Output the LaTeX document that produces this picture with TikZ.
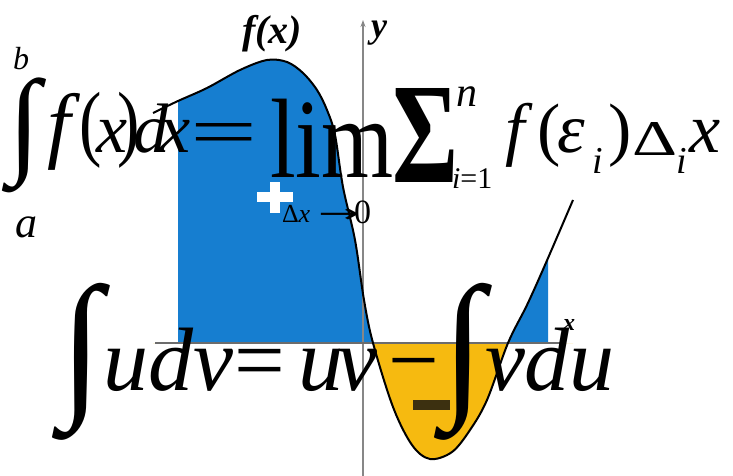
\documentclass[tikz,border=0pt]{standalone}
\usepackage{fontspec}
\setmainfont{Liberation Serif}
\newfontfamily\symfont{DejaVu Sans}
\usepackage{graphicx}
\usetikzlibrary{arrows.meta}
\definecolor{areablue}{RGB}{22,126,208}
\definecolor{areaorange}{RGB}{246,186,16}
\definecolor{axisgray}{RGB}{135,135,135}
\definecolor{minusdark}{RGB}{60,48,16}
\newcommand{\fsz}[1]{\fontsize{#1}{#1}\selectfont}
\begin{document}
\begin{tikzpicture}[x=1pt,y=-1pt,
  txt/.style={inner sep=0pt, outer sep=0pt, anchor=base west},
  bigglyph/.style={inner sep=0pt, outer sep=0pt, anchor=south west},
  curveline/.style={line width=2pt, black, line join=round}]
\useasboundingbox[fill=white] (0,0) rectangle (733,476);

% ---- areas ----
\begin{scope}
  \clip (178,0) rectangle (548,343);
  \fill[areablue] plot[smooth, tension=0.55] coordinates {(153,113) (178,101) (207,88) (240,70) (267,60) (287,62) (303,73) (317,90) (327,110) (335,135) (343,187) (355,240) (364,300) (373,343) (393,407) (412,445) (430,459) (452,452) (470,430) (487,400) (508,343) (527,305) (545,265) (573,200)} -- (573,343) -- (153,343) -- cycle;
\end{scope}
\begin{scope}
  \clip (153,343) rectangle (733,476);
  \fill[areaorange] plot[smooth, tension=0.55] coordinates {(153,113) (178,101) (207,88) (240,70) (267,60) (287,62) (303,73) (317,90) (327,110) (335,135) (343,187) (355,240) (364,300) (373,343) (393,407) (412,445) (430,459) (452,452) (470,430) (487,400) (508,343) (527,305) (545,265) (573,200)} -- (573,343) -- (153,343) -- cycle;
\end{scope}

% ---- axes ----
\coordinate (ybot) at (363,476);
\coordinate (ytop) at (363,20);
\coordinate (xleft) at (155,343);
\coordinate (xright) at (560,343);
\draw[axisgray, line width=1.6pt, -{Stealth[length=7pt,width=5pt]}] (ybot) -- (ytop);
\draw[axisgray!80!black, line width=1.8pt] (xleft) -- (xright);

% ---- curve ----
\draw[curveline] plot[smooth, tension=0.55] coordinates {(153,113) (178,101) (207,88) (240,70) (267,60) (287,62) (303,73) (317,90) (327,110) (335,135) (343,187) (355,240) (364,300) (373,343) (393,407) (412,445) (430,459) (452,452) (470,430) (487,400) (508,343) (527,305) (545,265) (573,200)};

% ---- plus / minus signs of the areas ----
\draw[white, line width=10pt] (257,197) -- (293,197);
\draw[white, line width=10pt] (275,182) -- (275,213);
\fill[minusdark] (413,400) rectangle (450,410);

% ---- axis labels ----
\node[txt, font=\fsz{40}\bfseries\itshape] (fxlabel) at (242,44) {f(x)};
\node[txt, font=\fsz{36}\bfseries\itshape] (ylabel) at (371,38) {y};
\node[txt, font=\fsz{24}\bfseries\itshape] (xlabel) at (563,330) {x};

% ---- upper formula ----
\node[bigglyph] (int1) at (8,193) {\resizebox*{32pt}{115pt}{∫}};
\node[txt, font=\fsz{32}\itshape] (ub) at (13,70) {b};
\node[txt, font=\fsz{44}\itshape] (lb) at (15,237) {a};
\node[txt, font=\fsz{84}\itshape] (f1) at (47,153) {f};
\node[txt, font=\fsz{84}] (lp1) at (79,150) {\scalebox{0.8}[1]{(}};
\node[txt, font=\fsz{70}\itshape] (x1) at (96,153) {x};
\node[txt, font=\fsz{84}] (rp1) at (117,150) {\scalebox{0.8}[1]{)}};
\node[txt, font=\fsz{70}\itshape] (d1) at (133,153) {d};
\node[txt, font=\fsz{70}\itshape] (x2) at (159,153) {x};
\node[txt, font=\fsz{70}] (eq1) at (190,155) {\scalebox{1.7}[1]{=}};
\node[txt, font=\fsz{113}] (lim) at (270,177) {\scalebox{0.82}[1]{lim}};
\node[txt, font=\fsz{26}] (dlt) at (282,222) {Δ\textit{x}};
\node[txt, font=\fsz{26}\symfont] (arr) at (318,222) {\resizebox{42pt}{\height}{→}};
\node[txt, font=\fsz{34}] (zero) at (354,223) {0};
\node[bigglyph] (sum) at (392,182) {\resizebox*{66pt}{94pt}{\bfseries Σ}};
\node[txt, font=\fsz{42}\itshape] (nup) at (456,107) {n};
\node[txt, font=\fsz{30}] (ilow) at (452,188) {\textit{i}=1};
\node[txt, font=\fsz{70}\itshape] (f2) at (505,153) {f};
\node[txt, font=\fsz{70}] (lp2) at (537,153) {(};
\node[txt, font=\fsz{70}\itshape] (eps) at (557,153) {ε};
\node[txt, font=\fsz{38}\itshape] (i1) at (592,173) {i};
\node[txt, font=\fsz{70}] (rp2) at (608,153) {)};
\node[bigglyph] (Dlt) at (632,155) {\resizebox*{45pt}{33pt}{Δ}};
\node[txt, font=\fsz{38}\itshape] (i2) at (676,173) {i};
\node[txt, font=\fsz{70}\itshape] (x3) at (689,153) {x};

% ---- lower formula ----
\node[bigglyph] (int2) at (60,440) {\resizebox*{42pt}{157pt}{∫}};
\node[txt, font=\fsz{90}\itshape] (udv) at (103,390) {udv};
\node[txt, font=\fsz{90}] (eq2) at (234,390) {=};
\node[txt, font=\fsz{90}\itshape] (uv) at (298,390) {u\kern-6pt v};
\node[txt, font=\fsz{90}] (minus) at (388,390) {−};
\node[bigglyph] (int3) at (442,440) {\resizebox*{42pt}{157pt}{∫}};
\node[txt, font=\fsz{90}\itshape] (vdu) at (485,390) {vdu};
\end{tikzpicture}
\end{document}
